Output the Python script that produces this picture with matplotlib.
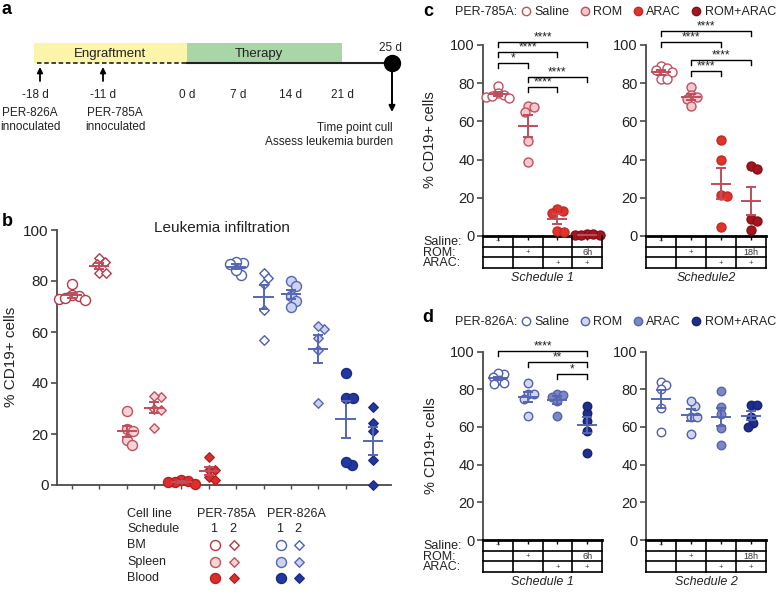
import numpy as np
import matplotlib
matplotlib.use("Agg")
import matplotlib.pyplot as plt
from matplotlib.lines import Line2D
from matplotlib.patches import Rectangle

plt.rcParams['font.family'] = ['Liberation Sans', 'DejaVu Sans']

# ---------------- data ----------------
# panel a (timeline schematic)
phase_names = ['Engraftment', 'Therapy']
phase_start_day = [-18, 0]
phase_end_day = [0, 21]
day_ticks = [-18, -11, 0, 7, 14, 21]
day_tick_labels = ['-18 d', '-11 d', '0 d', '7 d', '14 d', '21 d']
inoculation_days = [-18, -11]
inoculation_labels = ['PER-826A\ninnoculated', 'PER-785A\ninnoculated']
cull_day = 25
cull_day_label = '25 d'
cull_text = 'Time point cull\nAssess leukemia burden'

# panel b (leukemia infiltration, % CD19+)
b_title = 'Leukemia infiltration'
b_785_bm_s1 = [79, 74, 73, 72.5, 74.5, 73.5]
b_785_bm_s2 = [89, 87.5, 86.5, 83, 83]
b_785_spl_s1 = [29, 22, 21, 17.5, 15.5]
b_785_spl_s2 = [34.5, 35, 30, 29.5, 22.5]
b_785_bld_s1 = [2, 1.5, 1, 1, 0.5]
b_785_bld_s2 = [11, 6, 6, 3, 2]
b_826_bm_s1 = [87, 87.5, 82.5, 86.5, 84.5]
b_826_bm_s2 = [83, 81, 79, 68.5, 57]
b_826_spl_s1 = [80, 78, 74, 72, 70]
b_826_spl_s2 = [61, 62.5, 57.5, 53, 32]
b_826_bld_s1 = [44, 34, 34, 8, 9]
b_826_bld_s2 = [30.5, 24.5, 21, 10, 0]
b_groups = [b_785_bm_s1, b_785_bm_s2, b_785_spl_s1, b_785_spl_s2, b_785_bld_s1, b_785_bld_s2,
            b_826_bm_s1, b_826_bm_s2, b_826_spl_s1, b_826_spl_s2, b_826_bld_s1, b_826_bld_s2]
b_cell_line = ['PER-785A'] * 6 + ['PER-826A'] * 6
b_tissue = ['BM', 'BM', 'Spleen', 'Spleen', 'Blood', 'Blood'] * 2
b_schedule = [1, 2] * 6
b_legend_rows = ['BM', 'Spleen', 'Blood']
b_cell_lines = ['PER-785A', 'PER-826A']

# panels c, d
treatments = ['Saline', 'ROM', 'ARAC', 'ROM+ARAC']
c_s1 = [[78.5, 75, 74, 73, 72.5, 73.5], [68, 67.5, 65, 49.5, 38.5],
        [13, 14, 12, 2.5, 2], [1, 0.8, 0.5, 0.3, 0.6]]
c_s2 = [[89, 88, 87, 86, 82, 82], [78, 74, 73, 71.5, 68],
        [50, 40, 21.5, 21, 4.5], [36.5, 35, 9, 8, 3]]
d_s1 = [[88, 88.5, 86.5, 85, 83.5, 83], [83.5, 77.5, 77.5, 75, 66],
        [77.5, 77, 76, 74, 66], [67.5, 71, 63, 58, 46]]
d_s2 = [[84, 82, 80, 70, 57.5], [71, 73.5, 65.5, 65.5, 56],
        [79, 70.5, 67, 59.5, 50.5], [71.5, 71.5, 65, 62, 60]]
c_s1_brackets = [(0, 3, '****'), (0, 2, '****'), (0, 1, '*'), (1, 3, '****'), (1, 2, '****')]
c_s1_levels = [101.6, 96.3, 90.6, 83.2, 78.0]
c_s2_brackets = [(0, 3, '****'), (0, 2, '****'), (1, 3, '****'), (1, 2, '****')]
c_s2_levels = [107.5, 101.8, 92.2, 86.6]
d_s1_brackets = [(0, 3, '****'), (1, 3, '**'), (2, 3, '*')]
d_s1_levels = [100.3, 94.3, 87.9]
d_s2_brackets = []
d_s2_levels = []
table_rows = ['Saline:', 'ROM:', 'ARAC:']
table_s1 = [['+', '', '', ''], ['', '+', '', '6h'], ['', '', '+', '+']]
table_s2 = [['+', '', '', ''], ['', '+', '', '18h'], ['', '', '+', '+']]
c_schedule_names = ['Schedule 1', 'Schedule2']
d_schedule_names = ['Schedule 1', 'Schedule 2']
ylabel = '% CD19+ cells'
yticks = [0, 20, 40, 60, 80, 100]

# ---------------- styles ----------------
W, H = 778, 595
fig = plt.figure(figsize=(W / 100, H / 100), dpi=100)
TXT = '#222222'
SPINE = '#4a4a4a'

red_style = {'BM': ('white', '#b23a48'), 'Spleen': ('#f6d3d6', '#c0505c'), 'Blood': ('#dc2f2c', '#b52024')}
blue_style = {'BM': ('white', '#4d5fb0'), 'Spleen': ('#cdd3ee', '#5566b5'), 'Blood': ('#2337a0', '#1a2a86')}
red_err, blue_err = '#bd4f5b', '#5566b5'
c_colors = [('white', '#c05060'), ('#f3c9cd', '#c05060'), ('#e2332b', '#c22a26'), ('#a5151f', '#861018')]
d_colors = [('white', '#5060b0'), ('#d2d7ef', '#5060b0'), ('#7b87c6', '#5864a8'), ('#1f2e8e', '#17236e')]


def add_ax(l, t, r, b):
    return fig.add_axes([l / W, 1 - b / H, (r - l) / W, (b - t) / H])


def px_scale(ax):
    x0, y0 = ax.transData.transform((0, 0))
    x1, y1 = ax.transData.transform((1, 1))
    return abs(x1 - x0), abs(y1 - y0)


def swarm_offsets(vals, ypx, xpx, d):
    vals = np.asarray(vals, float)
    order = np.argsort(-vals, kind='stable')
    placed = []
    off = np.zeros(len(vals))
    for i in order:
        y = vals[i] * ypx
        cands = [0.0]
        for (px_, py_) in placed:
            dy = abs(y - py_)
            if dy < d:
                dx = np.sqrt(d * d - dy * dy)
                cands += [px_ + dx, px_ - dx]
        cands = sorted(cands, key=abs)
        chosen = cands[-1]
        for c in cands:
            if all((c - px_) ** 2 + (y - py_) ** 2 >= d * d - 1e-6 for px_, py_ in placed):
                chosen = c
                break
        placed.append((chosen, y))
        off[i] = chosen / xpx
    return off


def marker_size(marker, diam):
    if marker == 'D':
        return (diam / 1.414 * 0.72) ** 2
    return (diam * 0.72) ** 2


def draw_group(ax, pos, vals, marker, fc, ec, diam, ecol, mhalf, chalf):
    xpx, ypx = px_scale(ax)
    offs = swarm_offsets(vals, ypx, xpx, diam * 0.7)
    ax.scatter(pos + offs, vals, s=marker_size(marker, diam), marker=marker, facecolor=fc,
               edgecolor=ec, linewidth=1.0, zorder=3, clip_on=False)
    v = np.asarray(vals, float)
    m = v.mean()
    se = v.std(ddof=1) / np.sqrt(len(v))
    kw = dict(color=ecol, lw=1.4, zorder=4, clip_on=False, solid_capstyle='butt')
    ax.plot([pos - mhalf, pos + mhalf], [m, m], **kw)
    ax.plot([pos, pos], [max(m - se, 0), m + se], **kw)
    ax.plot([pos - chalf, pos + chalf], [m + se, m + se], **kw)
    ax.plot([pos - chalf, pos + chalf], [max(m - se, 0), max(m - se, 0)], **kw)


def style_axis(ax, labelsize, bottom_color, bottom_lw):
    for s in ['top', 'right']:
        ax.spines[s].set_visible(False)
    ax.spines['left'].set_color(SPINE)
    ax.spines['left'].set_linewidth(1.3)
    ax.spines['bottom'].set_color(bottom_color)
    ax.spines['bottom'].set_linewidth(bottom_lw)
    ax.set_ylim(0, 100)
    ax.set_yticks(yticks)
    ax.tick_params(axis='y', length=4, width=1.2, color=SPINE, labelsize=labelsize, labelcolor=TXT, pad=2)
    ax.tick_params(axis='x', length=3, width=1.0, color=bottom_color, labelbottom=False)
    ax.patch.set_alpha(0)


# ---------------- canvas (pixel coordinates) ----------------
cv = fig.add_axes([0, 0, 1, 1])
cv.set_xlim(0, W)
cv.set_ylim(H, 0)
cv.axis('off')

# panel labels
for lab, x, y in [('a', 2, 9), ('b', 2, 221), ('c', 423, 11), ('d', 422, 317)]:
    cv.text(x, y, lab, fontsize=13, fontweight='bold', va='center', ha='left', color='k')

# ---------------- panel a ----------------
anchor_days = [-18, -11, 0, 21, 25]
anchor_px = [40, 103, 187, 342, 392]


def day2px(d):
    return float(np.interp(d, anchor_days, anchor_px))


line_y, box_top = 63, 43
phase_cols = ['#fcf4a9', '#a8d6a6']
for name, d0, d1, col in zip(phase_names, phase_start_day, phase_end_day, phase_cols):
    x0 = day2px(d0) - (6 if d0 == phase_start_day[0] else 0)
    x1 = day2px(d1)
    cv.add_patch(Rectangle((x0, box_top), x1 - x0, line_y - box_top, facecolor=col, edgecolor='none', zorder=1))
    cv.text((x0 + x1) / 2 - (6 if d0 == 0 else 0), 54, name, ha='center', va='center', fontsize=9.5, color=TXT, zorder=2)
cv.plot([day2px(-18) - 3, day2px(0)], [line_y, line_y], color='#333333', lw=1.3, dashes=(2.5, 1.5), zorder=2)
cv.plot([day2px(0), day2px(cull_day)], [line_y, line_y], color='#222222', lw=1.5, zorder=2)
cv.plot([day2px(cull_day)], [line_y], marker='o', markersize=11.5, color='k', zorder=3)
cv.text(day2px(cull_day) - 2, 48, cull_day_label, ha='center', va='center', fontsize=8.5, color=TXT)
cv.annotate('', xy=(day2px(cull_day), 112), xytext=(day2px(cull_day), line_y),
            arrowprops=dict(arrowstyle='-|>', color='k', lw=1.4, mutation_scale=9, shrinkA=0, shrinkB=0))
cv.text(day2px(cull_day) + 1, 135, cull_text, ha='right', va='center', fontsize=8.5, color=TXT,
        multialignment='right', linespacing=1.15)
for d, lab in zip(day_ticks, day_tick_labels):
    cv.text(day2px(d) - (5 if d == -18 else 0), 95, lab, ha='center', va='center', fontsize=8.5, color=TXT)
for d, lab, cx in zip(inoculation_days, inoculation_labels, [30, 115]):
    cv.annotate('', xy=(day2px(d), 67), xytext=(day2px(d), 81),
                arrowprops=dict(arrowstyle='-|>', color='k', lw=1.3, mutation_scale=8, shrinkA=0, shrinkB=0))
    cv.text(cx, 120, lab, ha='center', va='center', fontsize=8.5, color=TXT, linespacing=1.15)

# ---------------- panel b ----------------
axb = add_ax(57, 230, 391, 485)
step_b = 27.36
axb.set_xlim((57 - 72) / step_b, (391 - 72) / step_b)
style_axis(axb, 11, SPINE, 1.3)
axb.set_xticks(range(len(b_groups)))
for i, vals in enumerate(b_groups):
    sty = red_style if b_cell_line[i] == 'PER-785A' else blue_style
    fc, ec = sty[b_tissue[i]]
    mk = 'o' if b_schedule[i] == 1 else 'D'
    ecol = red_err if b_cell_line[i] == 'PER-785A' else blue_err
    draw_group(axb, i, vals, mk, fc, ec, 10 if mk == 'o' else 9.5, ecol, 0.37, 0.18)
cv.text(222, 228, b_title, ha='center', va='center', fontsize=11, color=TXT)
cv.text(11, 357, ylabel, rotation=90, ha='center', va='center', fontsize=11, color=TXT)

# legend table of panel b
cv.text(127, 514, 'Cell line', ha='left', va='center', fontsize=9, color=TXT)
cv.text(127, 529, 'Schedule', ha='left', va='center', fontsize=9, color=TXT)
for k, (cl, cx, sty) in enumerate(zip(b_cell_lines, [226, 296], [red_style, blue_style])):
    cv.text(cx, 514, cl, ha='center', va='center', fontsize=9, color=TXT)
    xs = [cx - 11, cx + 8] if k == 0 else [cx - 15, cx + 3]
    for sch, xx in zip([1, 2], xs):
        cv.text(xx - 1, 529, str(sch), ha='center', va='center', fontsize=9, color=TXT)
    for r, tissue in enumerate(b_legend_rows):
        fc, ec = sty[tissue]
        yy = 545 + r * 16.5
        cv.scatter([xs[0]], [yy], s=marker_size('o', 10), marker='o', facecolor=fc, edgecolor=ec, linewidth=1.0)
        cv.scatter([xs[1]], [yy], s=marker_size('D', 9.5), marker='D', facecolor=fc, edgecolor=ec, linewidth=1.0)
for r, tissue in enumerate(b_legend_rows):
    cv.text(127, 545 + r * 16.5, tissue, ha='left', va='center', fontsize=9, color=TXT)


# ---------------- panels c and d ----------------
def draw_brackets(ax, brackets, levels, tick=2.6):
    for (i, j, lab), y in zip(brackets, levels):
        ax.plot([i, i, j, j], [y - tick, y, y, y - tick], color='k', lw=1.0, clip_on=False, zorder=5)
        ax.text((i + j) / 2, y - 0.8, lab, ha='center', va='bottom', fontsize=8.5, color=TXT, clip_on=False)


def draw_table(l, t, r, b, marks, sched_name):
    tax = add_ax(l, t, r, b)
    tax.set_xlim(-0.5, 3.5)
    tax.set_ylim(3, 0)
    tax.axis('off')
    for yy in [1, 2, 3]:
        tax.plot([-0.5, 3.5], [yy, yy], color='k', lw=1.2, clip_on=False)
    for xx in [-0.5, 0.5, 1.5, 2.5, 3.5]:
        tax.plot([xx, xx], [0, 3], color='k', lw=1.2, clip_on=False)
    for ri, row in enumerate(marks):
        for ci, m in enumerate(row):
            if m:
                tax.text(ci, ri + 0.55, m, ha='center', va='center', fontsize=5.5 if m == '+' else 6.5,
                         color='#333333')
    cv.text((l + r) / 2, b + 10, sched_name, ha='center', va='center', fontsize=9, style='italic', color=TXT)


def strip_panel(l, t, r, b, groups, colors, ecol, brackets, levels, marks, sched_name, diam, with_rows):
    ax = add_ax(l, t, r, b)
    ax.set_xlim(-0.5, 3.5)
    style_axis(ax, 10.5, 'k', 2.0)
    ax.set_xticks(range(4))
    for i, vals in enumerate(groups):
        fc, ec = colors[i]
        draw_group(ax, i, vals, 'o', fc, ec, diam, ecol, 0.34, 0.17)
    draw_brackets(ax, brackets, levels)
    tb = b + 32
    draw_table(l, b, r, tb, marks, sched_name)
    if with_rows:
        for ri, rl in enumerate(table_rows):
            cv.text(423, b + (ri + 0.5) * 32 / 3 + 0.5, rl, ha='left', va='center', fontsize=9, color=TXT)
    return ax


strip_panel(483, 45, 602, 236, c_s1, c_colors, red_err, c_s1_brackets, c_s1_levels, table_s1,
            c_schedule_names[0], 9, True)
strip_panel(646, 45, 766, 236, c_s2, c_colors, red_err, c_s2_brackets, c_s2_levels, table_s2,
            c_schedule_names[1], 9, False)
strip_panel(483, 351.5, 602, 540, d_s1, d_colors, blue_err, d_s1_brackets, d_s1_levels, table_s1,
            d_schedule_names[0], 8.5, True)
strip_panel(646, 351.5, 766, 540, d_s2, d_colors, blue_err, d_s2_brackets, d_s2_levels, table_s2,
            d_schedule_names[1], 8.5, False)
cv.text(430, 140, ylabel, rotation=90, ha='center', va='center', fontsize=10.5, color=TXT)
cv.text(431, 446, ylabel, rotation=90, ha='center', va='center', fontsize=10.5, color=TXT)

# legends for c and d
for cl, colors, y in [('PER-785A:', c_colors, 12), ('PER-826A:', d_colors, 322)]:
    cv.text(455, y, cl, ha='left', va='center', fontsize=9, color=TXT)
    handles = [Line2D([], [], linestyle='none', marker='o', markersize=6.0, markerfacecolor=fc,
                      markeredgecolor=ec, markeredgewidth=1.0) for fc, ec in colors]
    fig.legend(handles, treatments, loc='center left', bbox_to_anchor=(521 / W, 1 - y / H), ncol=4,
               frameon=False, fontsize=9, handlelength=0.8, handletextpad=0.3, columnspacing=0.8,
               borderpad=0, borderaxespad=0, labelcolor=TXT)

fig.savefig('out.png', dpi=100, facecolor='white')
